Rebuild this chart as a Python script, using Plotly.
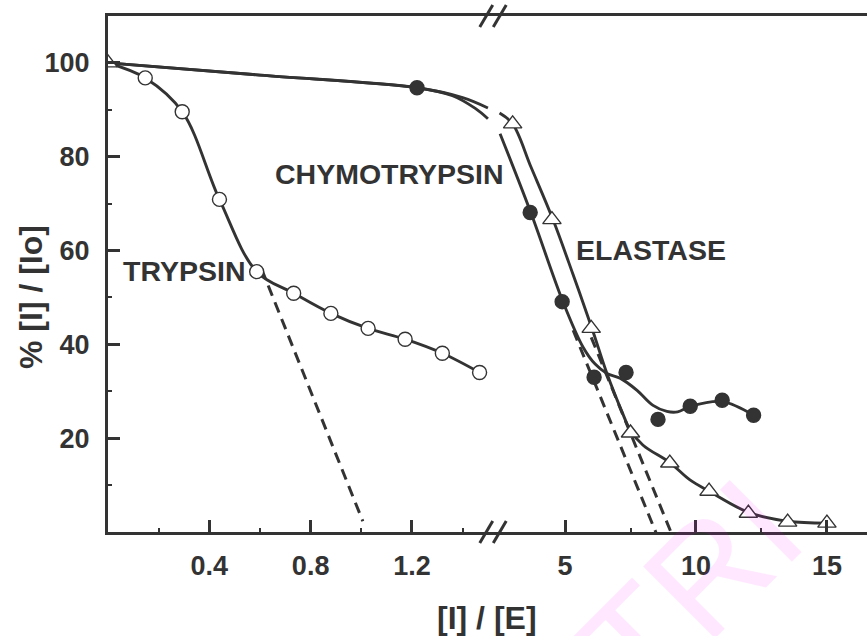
import plotly.graph_objects as go

# ---------------- data ----------------
# TRYPSIN (open circles)
trypsin_x = [0.147, 0.293, 0.44, 0.587, 0.733, 0.88, 1.027, 1.173, 1.32, 1.467]
trypsin_y = [96.8, 89.6, 70.9, 55.5, 50.9, 46.6, 43.4, 41.1, 38.1, 34.0]
trypsin_curve_x = [0.0, 0.147, 0.293, 0.44, 0.587, 0.733, 0.88, 1.027, 1.173, 1.32, 1.467]
trypsin_curve_y = [100.0, 96.8, 89.6, 70.9, 55.5, 50.9, 46.6, 43.4, 41.1, 38.1, 34.0]
trypsin_tangent_x = [0.606, 1.006]
trypsin_tangent_y = [56.1, 2.3]

# CHYMOTRYPSIN (filled circles)
chymo_left_x = [1.22]
chymo_left_y = [94.7]
chymo_right_x = [3.67, 4.89, 6.11, 7.33, 8.55, 9.78, 11.0, 12.2]
chymo_right_y = [68.1, 49.1, 33.0, 34.0, 24.0, 26.8, 28.1, 24.9]
chymo_curve_left_x = [0.0, 0.6, 1.22, 1.36, 1.45, 1.5]
chymo_curve_left_y = [100.0, 97.4, 94.7, 93.0, 90.3, 88.1]
chymo_curve_right_x = [2.52, 3.7, 4.92, 5.69, 6.15, 6.6, 7.1, 7.75, 8.36, 8.89, 9.3, 9.8, 11.0, 12.2]
chymo_curve_right_y = [84.9, 68.0, 49.1, 39.4, 35.8, 33.8, 32.8, 30.2, 27.0, 25.7, 25.6, 26.8, 27.8, 24.9]
chymo_tangent_x = [5.31, 8.5]
chymo_tangent_y = [43.0, -0.5]

# ELASTASE (open triangles)
elast_left_x = [0.0]
elast_left_y = [100.0]
elast_right_x = [3.0, 4.5, 6.0, 7.5, 9.0, 10.5, 12.0, 13.5, 15.0]
elast_right_y = [87.0, 66.6, 43.4, 21.1, 14.7, 8.7, 4.0, 2.1, 1.9]
elast_curve_left_x = [0.0, 0.6, 1.22, 1.4, 1.5]
elast_curve_left_y = [100.0, 97.4, 94.7, 92.6, 90.4]
elast_curve_right_x = [2.5, 3.0, 3.7, 4.54, 5.3, 6.03, 6.6, 7.2, 7.48, 7.98, 9.0, 9.77, 10.5, 12.0, 13.5, 15.0]
elast_curve_right_y = [89.3, 87.0, 77.8, 66.6, 55.0, 43.4, 33.8, 25.3, 21.8, 18.5, 14.8, 11.1, 8.7, 4.2, 2.3, 1.9]
elast_tangent_x = [6.0, 9.08]
elast_tangent_y = [41.5, -0.5]

left_ticks = [0.4, 0.8, 1.2]
left_ticktext = ["0.4", "0.8", "1.2"]
left_minor = [0.2, 0.6, 1.0, 1.4]
right_ticks = [5, 10, 15]
right_minor = [7.5, 12.5]
y_ticks = [20, 40, 60, 80, 100]
y_minor = [10, 30, 50, 70, 90]

# ---------------- styling ----------------
INK = "#333333"
FONT = "Liberation Sans"
W, H = 867, 636
ML, MR, MT, MB = 108, 0, 16, 104
PW, PH = W - ML - MR, H - MT - MB
BREAK_PX = 493
BREAK = (BREAK_PX - ML) / PW

fig = go.Figure()


def add_line(x, y, xa, dash=None):
    fig.add_trace(go.Scatter(
        x=x, y=y, xaxis=xa, yaxis="y", mode="lines",
        line=dict(color=INK, width=3.0 if dash else 2.9,
                  shape="linear" if dash else "spline", smoothing=1.0,
                  dash=dash if dash else "solid"),
        hoverinfo="skip", showlegend=False))


def add_markers(x, y, xa, symbol, fill, size):
    fig.add_trace(go.Scatter(
        x=x, y=y, xaxis=xa, yaxis="y", mode="markers",
        marker=dict(symbol=symbol, size=size, color=fill,
                    line=dict(color=INK, width=1.4)),
        hoverinfo="skip", showlegend=False))


# curves
add_line(trypsin_curve_x, trypsin_curve_y, "x")
add_line(chymo_curve_left_x, chymo_curve_left_y, "x")
add_line(elast_curve_left_x, elast_curve_left_y, "x")
add_line(chymo_curve_right_x, chymo_curve_right_y, "x2")
add_line(elast_curve_right_x, elast_curve_right_y, "x2")
# tangents
add_line(trypsin_tangent_x, trypsin_tangent_y, "x", dash="11px,7px")
add_line(chymo_tangent_x, chymo_tangent_y, "x2", dash="11px,7px")
add_line(elast_tangent_x, elast_tangent_y, "x2", dash="11px,7px")
# markers
add_markers(trypsin_x, trypsin_y, "x", "circle", "white", 14)
add_markers(chymo_left_x, chymo_left_y, "x", "circle", INK, 14)
add_markers(chymo_right_x, chymo_right_y, "x2", "circle", INK, 14)
add_markers(elast_left_x, elast_left_y, "x", "triangle-up", "white", 16)
add_markers(elast_right_x, elast_right_y, "x2", "triangle-up", "white", 16)

tickfont = dict(family=FONT, size=27, color=INK, weight="bold")
common = dict(ticks="inside", ticklen=12, tickwidth=2.5, tickcolor=INK,
              showline=True, linewidth=3, linecolor=INK, mirror=True,
              showgrid=False, zeroline=False, tickfont=tickfont,
              ticklabelstandoff=8, anchor="y")

fig.update_layout(
    width=W, height=H,
    margin=dict(l=ML, r=MR, t=MT, b=MB, pad=0),
    paper_bgcolor="white", plot_bgcolor="white",
    showlegend=False,
    xaxis=dict(domain=[0, BREAK], range=[0, 1.52],
               tickvals=left_ticks, ticktext=left_ticktext,
               minor=dict(tickvals=left_minor, ticks="inside", ticklen=4,
                          tickwidth=2, tickcolor=INK),
               **common),
    xaxis2=dict(domain=[BREAK, 1], range=[2.25, 16.53],
                tickvals=right_ticks, ticktext=[str(v) for v in right_ticks],
                minor=dict(tickvals=right_minor, ticks="inside", ticklen=4,
                           tickwidth=2, tickcolor=INK),
                **common),
    yaxis=dict(domain=[0, 1], range=[0, 110],
               tickvals=y_ticks, ticktext=[str(v) for v in y_ticks],
               minor=dict(tickvals=y_minor, ticks="inside", ticklen=4,
                          tickwidth=2, tickcolor=INK),
               ticks="inside", ticklen=12, tickwidth=2.5, tickcolor=INK,
               showline=True, linewidth=3, linecolor=INK, mirror=False,
               showgrid=False, zeroline=False, tickfont=tickfont,
               ticklabelstandoff=10, anchor="x"),
)

# axis-break marks (decoration, in paper coordinates)
dxp = 6.5 / PW
dyp = 11.0 / PH
shapes = []
for yc in (0.0, 1.0):
    for off in (-6.75, 6.75):
        xc = BREAK + off / PW
        shapes.append(dict(type="line", xref="paper", yref="paper",
                           x0=xc - dxp, y0=yc - dyp, x1=xc + dxp, y1=yc + dyp,
                           line=dict(color=INK, width=3)))
fig.update_layout(shapes=shapes)

label_font = dict(family=FONT, size=28.5, color=INK, weight="bold")
title_font = dict(family=FONT, size=32, color=INK, weight="bold")
annotations = [
    dict(text="TRYPSIN", x=0.30, y=55.7, xref="x", yref="y",
         showarrow=False, font=label_font, xanchor="center", yanchor="middle"),
    dict(text="CHYMOTRYPSIN", x=1.113, y=76.4, xref="x", yref="y",
         showarrow=False, font=label_font, xanchor="center", yanchor="middle"),
    dict(text="ELASTASE", x=8.28, y=60.2, xref="x2", yref="y",
         showarrow=False, font=label_font, xanchor="center", yanchor="middle"),
    dict(text="[I] / [E]", x=(487 - ML) / PW, y=(H - MB - 618) / PH,
         xref="paper", yref="paper", showarrow=False, font=title_font,
         xanchor="center", yanchor="middle"),
    dict(text="% [I] / [Io]", x=(31 - ML) / PW, y=(H - MB - 297) / PH,
         xref="paper", yref="paper", showarrow=False, font=title_font,
         textangle=-90, xanchor="center", yanchor="middle"),
    dict(text="TRI", x=(690 - ML) / PW, y=(H - MB - 590) / PH,
         xref="paper", yref="paper", showarrow=False,
         font=dict(family=FONT, size=148, color="rgba(255,0,255,0.09)"),
         textangle=-45, xanchor="center", yanchor="middle"),
]
fig.update_layout(annotations=annotations)

fig.write_html("out.html")
